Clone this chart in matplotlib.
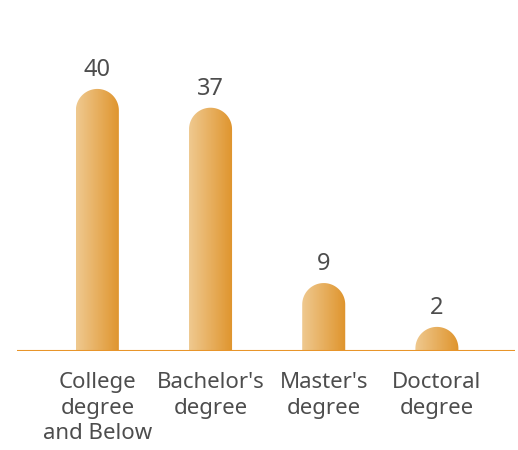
import numpy as np
import matplotlib
matplotlib.use("Agg")
import matplotlib.pyplot as plt
from matplotlib.patches import Polygon
from matplotlib.colors import LinearSegmentedColormap

plt.rcParams['font.family'] = ['Noto Sans', 'DejaVu Sans']

categories = ["College\ndegree\nand Below", "Bachelor's\ndegree", "Master's\ndegree", "Doctoral\ndegree"]
values = [40, 37, 9, 2]

text_color = "#4d4d4d"
axis_color = "#E8952A"
grad = LinearSegmentedColormap.from_list("bar", ["#EFC990", "#DF942C"])

fig = plt.figure(figsize=(5.18, 4.5), dpi=100)
ax = fig.add_axes([17 / 518, 99 / 450, 498 / 518, 351 / 450])

y_min, y_max = -1.85, 54.2
ax.set_xlim(-0.71, 3.69)
ax.set_ylim(y_min, y_max)

bar_w = 0.38
# cap radius in data units (half bar width in pixels -> y units)
px_per_x = 498 / (3.69 + 0.71)
px_per_y = 351 / (y_max - y_min)
r_y = (bar_w / 2) * px_per_x / px_per_y

gradient = np.linspace(0, 1, 256).reshape(1, -1)
t = np.linspace(0, np.pi, 60)

for i, v in enumerate(values):
    x0, x1 = i - bar_w / 2, i + bar_w / 2
    yc = v - r_y
    arc = np.column_stack([i + (bar_w / 2) * np.cos(t), yc + r_y * np.sin(t)])
    verts = np.vstack([[x0, y_min], [x1, y_min], [x1, yc], arc, [x0, yc]])
    poly = Polygon(verts, closed=True, facecolor="none", edgecolor="none")
    ax.add_patch(poly)
    im = ax.imshow(gradient, cmap=grad, aspect="auto",
                   extent=[x0, x1, y_min, v], zorder=2)
    im.set_clip_path(poly)
    ax.text(i, v + 2.1, str(v), ha="center", va="baseline",
            fontsize=17, color=text_color)

ax.axhline(y_min, color=axis_color, linewidth=1.5, zorder=3)

ax.set_xticks(range(len(categories)))
ax.set_xticklabels(categories, fontsize=16, color=text_color, linespacing=1.3)
ax.tick_params(axis="x", length=0, pad=15)
ax.set_yticks([])
for s in ax.spines.values():
    s.set_visible(False)

fig.savefig("out.png", dpi=100)
